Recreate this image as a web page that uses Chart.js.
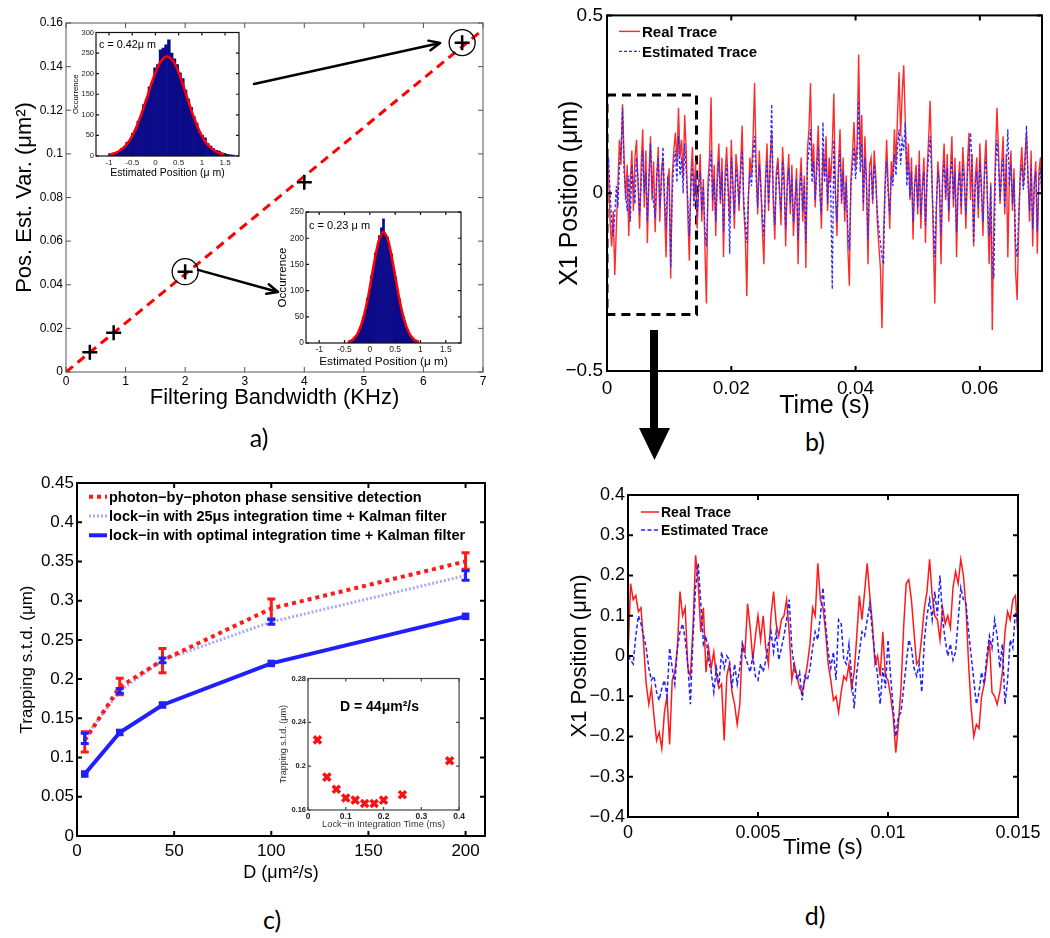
<!DOCTYPE html>
<html><head><meta charset="utf-8">
<script src="https://cdn.jsdelivr.net/npm/chart.js@4.4.1/dist/chart.umd.min.js"></script>
<style>
html,body{margin:0;padding:0;background:#fff;width:1050px;height:938px;overflow:hidden}
canvas{position:absolute}
.lbl{position:absolute;font-family:Lato,"Open Sans",sans-serif;font-size:25px;color:#000;transform:translate(-50%,-50%);white-space:nowrap}
</style></head><body>
<canvas id="ca" width="500" height="420" style="left:0px;top:0px"></canvas>
<canvas id="ca1" width="182" height="156" style="left:62px;top:26px"></canvas>
<canvas id="ca2" width="196" height="165" style="left:270px;top:205px"></canvas>
<canvas id="cb" width="520" height="425" style="left:530px;top:0px"></canvas>
<canvas id="cc" width="500" height="455" style="left:0px;top:430px"></canvas>
<canvas id="cc1" width="201" height="165" style="left:266px;top:672px"></canvas>
<canvas id="cd" width="490" height="400" style="left:560px;top:470px"></canvas>
<svg style="position:absolute;left:630px;top:325px" width="50" height="145"><rect x="20" y="5" width="8" height="100" fill="#000"/><polygon points="9,103 40,103 24.5,135" fill="#000"/></svg>
<div class="lbl" style="left:259px;top:437px">a)</div>
<div class="lbl" style="left:815px;top:441px">b)</div>
<div class="lbl" style="left:272px;top:919px">c)</div>
<div class="lbl" style="left:815px;top:915px">d)</div>
<script>
// ---------- DATA ----------
// panel a (main)
const bwA = [0.4, 0.8, 2, 4, 6.65];
const varA = [0.009, 0.018, 0.046, 0.087, 0.151];
const circX = [2, 6.65];
const circY = [0.046, 0.151];
const fitLineX = [0, 7];
const fitLineY = [0, 0.157];
const arrowFromX = [3.156, 2.216];
const arrowFromY = [0.132, 0.0468];
const arrowToX = [6.28, 3.559];
const arrowToY = [0.1508, 0.0367];
const aXTicks = [0,1,2,3,4,5,6,7];
const aXLabels = ['0','1','2','3','4','5','6','7'];
const aYTicks = [0,0.02,0.04,0.06,0.08,0.1,0.12,0.14,0.16];
const aYLabels = ['0','0.02','0.04','0.06','0.08','0.1','0.12','0.14','0.16'];
// panel a insets (histograms)
const hist1Start = -0.97, hist1Width = 0.06;
const hist1Counts = [3,5,9,10,18,20,33,38,55,62,85,96,125,138,168,178,214,222,258,262,270,282,250,236,222,202,188,160,138,118,96,80,58,50,44,30,24,18,14,12,8,6,4,3,2];
const fit1X = [-1.0,-0.9,-0.8,-0.7,-0.6,-0.5,-0.4,-0.3,-0.2,-0.1,0,0.1,0.2,0.25,0.3,0.4,0.5,0.6,0.7,0.8,0.9,1.0,1.1,1.2,1.3,1.4,1.5];
const fit1Y = [3,6,11,19,31,49,73,103,136,171,203,227,240,242,240,227,203,171,136,103,73,49,31,19,11,6,3];
const hist2Start = -0.41, hist2Width = 0.04;
const hist2Counts = [1,3,6,12,14,26,32,50,60,85,98,128,140,172,180,205,220,237,205,202,178,170,140,126,96,84,58,50,30,26,14,10,5,3,1];
const fit2X = [-0.43,-0.33,-0.23,-0.13,-0.03,0.07,0.17,0.27,0.37,0.47,0.57,0.67,0.77,0.87,0.97];
const fit2Y = [2,7,20,47,90,145,193,212,193,145,90,47,20,7,2];
const hXTicks = [-1,-0.5,0,0.5,1,1.5];
const hXLabels = ['-1','-0.5','0','0.5','1','1.5'];
const h1YTicks = [0,50,100,150,200,250,300];
const h1YLabels = ['0','50','100','150','200','250','300'];
const h2YTicks = [0,50,100,150,200,250];
const h2YLabels = ['0','50','100','150','200','250'];

// panel b (long trace)
const dtB = 0.00025;
const realB = [0.12,0.05,-0.08,-0.15,-0.05,-0.23,-0.10,0.02,0.15,0.08,
0.25,0.10,-0.02,0.08,-0.12,0.03,0.12,-0.05,0.10,0.15,
0.02,-0.10,0.08,0.18,-0.04,0.12,-0.14,0.05,0.16,-0.02,
0.09,-0.11,0.04,0.13,-0.08,0.06,0.10,-0.03,-0.18,0.02,
0.07,-0.24,0.05,0.12,0.17,0.08,0.24,0.10,0.15,0.04,
0.22,0.12,-0.06,-0.19,0.05,0.13,-0.02,0.09,-0.10,0.02,
0.11,-0.08,0.04,-0.15,-0.31,0.03,0.10,0.27,-0.05,0.08,
-0.12,0.06,0.14,-0.03,0.10,-0.18,0.05,0.13,0.02,-0.08,
0.15,0.03,-0.10,0.11,0.06,-0.05,0.08,0.19,-0.04,-0.12,
-0.29,-0.02,0.10,0.05,0.15,0.31,0.08,-0.06,0.12,0.03,
-0.10,-0.20,0.04,0.14,-0.05,0.09,0.17,-0.02,-0.13,0.06,
0.10,0.02,-0.09,0.13,0.05,-0.15,0.03,0.11,-0.06,0.08,
-0.12,-0.03,0.07,-0.20,0.02,0.10,-0.08,0.05,-0.21,0.12,
0.18,0.31,0.06,0.14,-0.04,0.09,0.19,0.02,-0.10,0.12,
0.05,0.16,-0.05,0.10,0.03,0.13,0.28,0.01,-0.12,0.08,
0.18,-0.03,0.10,-0.08,0.05,-0.15,-0.26,0.04,0.11,0.20,
0.07,0.14,0.39,0.10,0.22,-0.05,0.16,0.04,-0.20,0.08,
0.10,-0.03,0.12,0.05,-0.08,-0.15,-0.21,-0.38,-0.12,0.03,
0.15,0.02,-0.10,0.09,0.04,0.18,0.08,0.22,0.34,0.16,
0.28,0.36,0.20,0.05,0.14,-0.02,0.10,-0.13,0.03,0.08,
-0.06,0.12,-0.10,0.02,0.10,-0.14,0.06,0.15,0.26,0.08,
-0.12,-0.31,-0.05,0.09,0.03,-0.20,0.05,0.14,-0.02,0.11,
-0.08,0.06,0.16,-0.04,0.10,-0.18,0.02,0.09,-0.06,0.13,
0.05,-0.10,0.08,0.17,-0.02,0.11,-0.15,0.04,0.10,-0.07,
0.14,0.02,-0.12,0.08,0.15,-0.05,-0.20,0.03,-0.385,-0.08,
0.10,0.24,0.12,-0.03,0.08,0.16,-0.06,0.11,-0.18,0.04,
0.12,-0.05,0.07,-0.22,-0.30,-0.10,0.06,0.13,0.02,0.10,
0.17,0.05,-0.08,0.12,-0.15,0.03,0.09,-0.17,0.06,0.10,-0.02];
const estB = [0.05,0.10,0.00,-0.08,-0.12,-0.06,0.02,-0.04,0.08,0.12,
0.24,0.06,0.00,-0.05,0.05,-0.08,0.08,0.02,-0.03,0.10,
0.04,-0.06,0.02,0.12,0.00,0.06,-0.08,0.03,0.14,0.02,
-0.03,-0.07,0.05,0.10,-0.04,0.02,0.13,0.00,-0.10,0.04,
0.02,-0.21,0.00,0.08,0.12,0.03,0.16,0.05,0.10,0.00,
0.14,0.06,-0.02,-0.12,0.02,0.08,-0.04,0.05,-0.07,0.01,
0.06,-0.05,0.02,-0.10,-0.15,0.00,0.05,0.12,-0.02,0.04,
-0.08,0.03,0.09,-0.02,0.06,-0.11,0.02,0.08,0.00,-0.17,
0.10,0.02,-0.06,0.07,0.03,-0.03,0.05,0.12,-0.02,-0.08,
-0.14,0.00,0.06,0.02,0.10,0.16,0.04,-0.04,0.08,0.01,
-0.06,-0.12,0.02,0.09,-0.03,0.06,0.25,0.00,-0.09,0.04,
0.07,0.00,-0.05,0.09,0.02,-0.10,0.01,0.07,-0.03,0.05,
-0.08,-0.02,0.04,-0.13,0.00,0.06,-0.05,0.03,-0.14,0.08,
0.12,0.18,0.03,0.09,-0.02,0.06,0.13,0.00,-0.06,0.20,
0.03,0.10,-0.03,0.06,0.01,-0.27,0.15,0.00,-0.08,0.05,
0.12,-0.02,0.06,-0.05,0.03,-0.10,-0.16,0.02,0.07,0.13,
0.04,0.09,0.26,0.06,0.14,-0.03,0.10,0.02,-0.13,0.05,
0.06,-0.02,0.08,0.03,-0.05,-0.10,-0.14,-0.18,-0.20,0.01,
0.09,0.00,-0.06,0.05,0.02,0.11,0.05,0.13,0.18,0.08,
0.15,0.12,0.20,0.02,0.09,-0.01,0.06,-0.08,0.02,0.05,
-0.04,0.08,-0.06,0.01,0.06,-0.09,0.04,0.10,0.16,0.05,
-0.07,-0.18,-0.03,0.06,0.02,-0.12,0.03,0.09,-0.01,0.07,
-0.05,0.04,0.10,-0.02,0.06,-0.11,0.01,0.06,-0.04,0.08,
0.03,-0.06,0.05,0.11,0.17,0.07,-0.14,0.02,0.06,-0.04,
0.09,0.01,-0.08,0.05,0.10,-0.03,-0.12,0.02,-0.20,-0.24,
0.06,0.15,0.08,-0.02,0.05,0.10,-0.04,0.07,0.18,0.02,
0.08,-0.03,0.04,-0.14,-0.18,-0.06,0.04,0.08,0.01,0.06,
0.19,0.03,-0.05,0.08,-0.10,0.02,0.06,-0.11,0.04,0.07,-0.01];
const zoomBoxX = [0, 0.0144, 0.0144, 0, 0];
const zoomBoxY = [0.276, 0.276, -0.341, -0.341, 0.276];
const bXTicks = [0,0.02,0.04,0.06];
const bXLabels = ['0','0.02','0.04','0.06'];
const bYTicks = [-0.5,0,0.5];
const bYLabels = ['\u22120.5','0','0.5'];

// panel c
const cD = [4, 22, 44, 100, 200];
const cPhoton = [0.122, 0.19, 0.224, 0.29, 0.35];
const cPhotonLo = [0.107, 0.18, 0.208, 0.277, 0.34];
const cPhotonHi = [0.133, 0.201, 0.239, 0.302, 0.361];
const cLock25 = [0.125, 0.185, 0.224, 0.273, 0.332];
const cLock25Lo = [0.118, 0.182, 0.221, 0.27, 0.326];
const cLock25Hi = [0.131, 0.188, 0.227, 0.276, 0.338];
const cLockOpt = [0.079, 0.132, 0.167, 0.22, 0.28];
const cXTicks = [0,50,100,150,200];
const cXLabels = ['0','50','100','150','200'];
const cYTicks = [0,0.05,0.1,0.15,0.2,0.25,0.3,0.35,0.4,0.45];
const cYLabels = ['0','0.05','0.1','0.15','0.2','0.25','0.3','0.35','0.4','0.45'];
// panel c inset
const intTime = [0.025,0.05,0.075,0.1,0.125,0.15,0.175,0.2,0.25,0.375];
const intStd = [0.224,0.19,0.179,0.171,0.169,0.166,0.166,0.169,0.174,0.205];
const ciXTicks = [0,0.1,0.2,0.3,0.4];
const ciXLabels = ['0','0.1','0.2','0.3','0.4'];
const ciYTicks = [0.16,0.2,0.24,0.28];
const ciYLabels = ['0.16','0.2','0.24','0.28'];

// panel d (zoomed trace)
const dtD = 0.0001;
const realD = [0,0.18,0.14,0.15,0.11,0.12,0.03,-0.07,-0.12,-0.08,
-0.15,-0.21,-0.19,-0.23,-0.14,-0.10,-0.22,-0.06,-0.04,0.02,
0.16,0.10,0.12,-0.03,-0.05,0.07,0.25,0.18,0.06,0.12,
-0.04,0.02,-0.03,0.01,-0.05,-0.08,-0.07,-0.21,-0.05,-0.02,
-0.09,-0.12,-0.17,-0.12,0.03,0.01,0.13,0.07,-0.01,0.05,
0.10,0.04,0.10,0.02,-0.02,0.10,0.16,0.08,0.05,0.09,
0.10,0.14,0.06,-0.06,-0.02,-0.05,-0.08,-0.09,-0.06,-0.02,
0.03,0.12,0.10,0.23,0.14,0.12,0.06,-0.02,-0.06,-0.11,
-0.10,-0.14,-0.09,-0.05,-0.06,-0.02,-0.08,-0.04,0.05,0.15,
0.09,0.16,0.23,0.15,0.08,-0.02,0.00,-0.05,0.06,-0.05,
-0.06,-0.10,-0.15,-0.24,-0.17,-0.08,0.07,0.18,0.19,0.14,
0.06,-0.02,-0.01,0.05,0.12,0.16,0.24,0.15,0.10,0.09,
0.04,0.12,0.08,0.10,0.07,0.17,0.21,0.18,0.24,0.20,
0.12,-0.02,-0.13,-0.20,-0.17,-0.18,-0.10,-0.07,-0.02,0.04,
-0.09,-0.10,-0.12,-0.09,-0.04,0.06,0.11,0.09,0.14,0.15,0.05];
const estD = [0,-0.01,-0.02,0.05,0.10,0.08,0.05,0.02,-0.03,-0.06,
-0.05,-0.09,-0.11,-0.08,-0.06,-0.10,0.02,-0.03,-0.07,0.02,
0.06,0.08,0.04,-0.02,-0.12,0.05,0.17,0.23,0.13,0.03,
0.05,-0.01,-0.04,-0.09,-0.03,-0.07,0.01,-0.03,0.00,-0.01,
-0.08,-0.02,-0.07,-0.03,0.03,0.00,-0.02,-0.04,0.00,-0.05,
-0.06,-0.02,-0.04,-0.01,0.03,0.06,0.01,0.06,-0.01,0.02,
0.05,0.09,0.14,0.02,-0.03,-0.06,-0.04,-0.11,-0.05,-0.06,
-0.03,0.02,0.06,0.04,0.10,0.17,0.08,0.01,-0.03,0.01,
-0.06,0.09,0.08,-0.01,-0.02,0.03,-0.05,-0.13,-0.04,0.01,
0.06,0.05,0.09,0.13,0.06,0.00,-0.05,-0.12,-0.03,-0.08,
0.04,-0.05,-0.13,-0.20,-0.15,-0.14,-0.08,-0.02,0.04,0.02,
-0.03,-0.05,-0.02,-0.09,0.04,0.10,0.14,0.09,0.16,0.10,
0.20,0.09,0.04,0.00,0.03,-0.01,0.01,0.09,0.17,0.14,
0.13,0.06,0.00,-0.06,-0.12,-0.09,-0.04,-0.07,0.00,0.05,
0.02,0.09,0.05,-0.03,0.03,-0.12,-0.06,0.04,0.02,0.11,0.08];
const dXTicks = [0,0.005,0.01,0.015];
const dXLabels = ['0','0.005','0.01','0.015'];
const dYTicks = [-0.4,-0.3,-0.2,-0.1,0,0.1,0.2,0.3,0.4];
const dYLabels = ['\u22120.4','\u22120.3','\u22120.2','\u22120.1','0','0.1','0.2','0.3','0.4'];

// ---------- HELPERS ----------
const FF = '"Liberation Sans", Arial, Helvetica, sans-serif';
Chart.defaults.font.family = FF;
Chart.defaults.color = '#000';
const pts = (xs, ys) => xs.map((v, i) => ({x: v, y: ys[i]}));
const series = (vals, dt) => vals.map((v, i) => ({x: i * dt, y: v}));

function mkAxis(o) {
  const horiz = o.pos === 'bottom';
  return {
    type: 'linear', position: o.pos, min: o.min, max: o.max, offset: false,
    afterBuildTicks: s => { s.ticks = o.ticks.map(v => ({value: v})); },
    afterFit: s => { if (horiz) s.height = o.size; else s.width = o.size; },
    ticks: { autoSkip: false, maxRotation: 0, minRotation: 0, padding: o.pad, color: o.tc || '#000',
      font: { size: o.fs, weight: o.fw || 'normal' }, callback: (v, i) => o.labels[i] },
    grid: { display: false, drawTicks: false },
    border: { display: false },
    title: { display: !!o.title, text: o.title, color: o.ttc || '#000',
      font: { size: o.tfs, weight: o.tfw || 'normal' },
      padding: horiz ? {top: 0, bottom: o.tpad} : {top: o.tpad, bottom: 0} }
  };
}
function opts(pad, x, y, plug) {
  return { responsive: false, animation: false, devicePixelRatio: 1, events: [],
    layout: { padding: pad, autoPadding: false },
    scales: { x: x, y: y },
    plugins: Object.assign({ legend: {display: false}, tooltip: {enabled: false} }, plug) };
}

const boxPlugin = {
  id: 'mbox',
  beforeDatasetsDraw(chart, a, o) {
    if (!o || !o.fill) return;
    const c = chart.chartArea, ctx = chart.ctx;
    ctx.save(); ctx.fillStyle = '#fff';
    ctx.fillRect(c.left, c.top, c.right - c.left, c.bottom - c.top); ctx.restore();
  },
  afterDatasetsDraw(chart, a, o) {
    if (!o || !o.width) return;
    const {ctx, chartArea: c, scales} = chart, L = o.tick;
    ctx.save(); ctx.strokeStyle = o.color; ctx.lineWidth = o.width; ctx.setLineDash([]);
    ctx.beginPath();
    scales.x.ticks.forEach(t => { const p = scales.x.getPixelForValue(t.value);
      ctx.moveTo(p, c.bottom); ctx.lineTo(p, c.bottom - L); ctx.moveTo(p, c.top); ctx.lineTo(p, c.top + L); });
    scales.y.ticks.forEach(t => { const p = scales.y.getPixelForValue(t.value);
      ctx.moveTo(c.left, p); ctx.lineTo(c.left + L, p); ctx.moveTo(c.right, p); ctx.lineTo(c.right - L, p); });
    ctx.stroke();
    ctx.strokeRect(c.left, c.top, c.right - c.left, c.bottom - c.top);
    ctx.restore();
  }
};
const legendPlugin = {
  id: 'mleg',
  afterDraw(chart, a, o) {
    if (!o || !o.items) return;
    const {ctx, chartArea: c} = chart;
    ctx.save(); ctx.font = o.font; ctx.textBaseline = 'middle'; ctx.fillStyle = '#000';
    o.items.forEach((di, k) => {
      const ds = chart.data.datasets[di];
      const y = c.top + o.y + k * o.dy, x = c.left + o.x;
      ctx.strokeStyle = ds.borderColor; ctx.lineWidth = ds.borderWidth; ctx.setLineDash(ds.borderDash || []);
      ctx.beginPath(); ctx.moveTo(x, y); ctx.lineTo(x + o.len, y); ctx.stroke();
      ctx.setLineDash([]);
      ctx.fillText(ds.label, x + o.len + o.gap, y + 1);
    });
    ctx.restore();
  }
};
const textPlugin = {
  id: 'mtext',
  afterDraw(chart, a, o) {
    if (!o || !o.items) return;
    const {ctx, chartArea: c} = chart;
    ctx.save();
    o.items.forEach(t => { ctx.font = t.font; ctx.fillStyle = '#000'; ctx.textBaseline = 'middle'; ctx.textAlign = 'left';
      ctx.fillText(t.text, c.left + t.dx, c.top + t.dy); });
    ctx.restore();
  }
};
const arrowPlugin = {
  id: 'marrow',
  afterDatasetsDraw(chart, a, o) {
    if (!o || !o.fx) return;
    const {ctx, scales: {x, y}} = chart;
    ctx.save(); ctx.strokeStyle = '#000'; ctx.lineWidth = o.width; ctx.lineCap = 'round'; ctx.lineJoin = 'round';
    o.fx.forEach((_, i) => {
      const x0 = x.getPixelForValue(o.fx[i]), y0 = y.getPixelForValue(o.fy[i]);
      const x1 = x.getPixelForValue(o.tx[i]), y1 = y.getPixelForValue(o.ty[i]);
      const ang = Math.atan2(y1 - y0, x1 - x0), h = o.head;
      ctx.beginPath(); ctx.moveTo(x0, y0); ctx.lineTo(x1, y1);
      ctx.moveTo(x1 - h * Math.cos(ang - 0.42), y1 - h * Math.sin(ang - 0.42));
      ctx.lineTo(x1, y1);
      ctx.lineTo(x1 - h * Math.cos(ang + 0.42), y1 - h * Math.sin(ang + 0.42));
      ctx.stroke();
    });
    ctx.restore();
  }
};
const errPlugin = {
  id: 'merr',
  afterDatasetsDraw(chart, a, o) {
    if (!o || !o.sets) return;
    const {ctx, scales: {x, y}} = chart;
    o.sets.forEach(s => {
      ctx.save(); ctx.strokeStyle = s.color; ctx.lineWidth = s.width; ctx.setLineDash([]); ctx.beginPath();
      s.xs.forEach((xv, i) => {
        const px = x.getPixelForValue(xv), lo = y.getPixelForValue(s.lo[i]), hi = y.getPixelForValue(s.hi[i]);
        ctx.moveTo(px, lo); ctx.lineTo(px, hi);
        ctx.moveTo(px - s.cap, lo); ctx.lineTo(px + s.cap, lo);
        ctx.moveTo(px - s.cap, hi); ctx.lineTo(px + s.cap, hi);
      });
      ctx.stroke(); ctx.restore();
    });
  }
};
const allPlugins = [boxPlugin, legendPlugin, textPlugin, arrowPlugin, errPlugin];

// ---------- PANEL a ----------
new Chart(document.getElementById('ca'), {
  type: 'scatter',
  data: { datasets: [
    { label: 'measured', data: pts(bwA, varA), pointStyle: 'cross', pointRadius: 7.5, borderColor: '#000', backgroundColor: '#000', borderWidth: 2.5, showLine: false },
    { label: 'zoomed', data: pts(circX, circY), pointStyle: 'circle', pointRadius: 13, borderColor: '#000', backgroundColor: 'rgba(0,0,0,0)', borderWidth: 1.3, showLine: false },
    { label: 'fit', data: pts(fitLineX, fitLineY), showLine: true, borderColor: '#ff0000', borderWidth: 3, borderDash: [9, 6], pointRadius: 0 }
  ]},
  options: opts({left: 0, top: 23, right: 17, bottom: 0},
    mkAxis({pos: 'bottom', min: 0, max: 7, ticks: aXTicks, labels: aXLabels, size: 48, pad: 2, fs: 12, title: 'Filtering Bandwidth (KHz)', tfs: 22, tpad: 8.8}),
    mkAxis({pos: 'left', min: 0, max: 0.16, ticks: aYTicks, labels: aYLabels, size: 66, pad: 3, fs: 12, title: 'Pos. Est. Var. (\u03bcm\u00b2)', tfs: 22, tpad: 12}),
    { mbox: {color: '#555', width: 1, tick: 5},
      marrow: {fx: arrowFromX, fy: arrowFromY, tx: arrowToX, ty: arrowToY, width: 2.5, head: 12} }),
  plugins: allPlugins
});

function histChart(id, counts, start, width, fx, fy, xmin, xmax, ymax, yt, yl, o) {
  return new Chart(document.getElementById(id), {
    type: 'bar',
    data: { datasets: [
      { type: 'line', label: 'fit', data: pts(fx, fy), borderColor: '#ff0000', borderWidth: 2.5, pointRadius: 0, cubicInterpolationMode: 'monotone' },
      { type: 'bar', label: 'hist', data: counts.map((c, i) => ({x: start + i * width, y: c})), backgroundColor: '#0b0b8a', borderWidth: 0, barPercentage: 1, categoryPercentage: 1 }
    ]},
    options: opts(o.pad,
      mkAxis({pos: 'bottom', min: xmin, max: xmax, ticks: hXTicks, labels: hXLabels, size: o.xs, pad: o.xp, fs: o.xfs, tc: '#222', title: 'Estimated Position (\u03bc m)', tfs: o.xtfs, tpad: o.xtp}),
      mkAxis({pos: 'left', min: 0, max: ymax, ticks: yt, labels: yl, size: o.ys, pad: 2, fs: o.yfs, tc: '#222', title: 'Occurrence', tfs: o.ytfs, tpad: o.ytp}),
      { mbox: {color: '#111', width: 1.2, tick: 3, fill: true}, mtext: {items: [o.text]} }),
    plugins: allPlugins
  });
}
histChart('ca1', hist1Counts, hist1Start, hist1Width, fit1X, fit1Y, -1.28, 1.8, 300, h1YTicks, h1YLabels,
  {pad: {left: 0, top: 6, right: 5, bottom: 0}, xs: 26, xp: 1.5, xfs: 8, xtfs: 10.5, xtp: 3, ys: 34, yfs: 7.5, ytfs: 7.7, ytp: 9.4,
   text: {text: 'c = 0.42\u03bc m', dx: 3, dy: 13, font: '10.8px ' + FF}});
histChart('ca2', hist2Counts, hist2Start, hist2Width, fit2X, fit2Y, -1.26, 1.8, 250, h2YTicks, h2YLabels,
  {pad: {left: 0, top: 7, right: 5, bottom: 0}, xs: 27, xp: 2, xfs: 8.5, xtfs: 11.8, xtp: 1.2, ys: 36, yfs: 8.4, ytfs: 11.6, ytp: 6,
   text: {text: 'c = 0.23 \u03bc m', dx: 3, dy: 14, font: '11px ' + FF}});

// ---------- PANEL b ----------
new Chart(document.getElementById('cb'), {
  type: 'line',
  data: { datasets: [
    { label: 'Estimated Trace', data: series(estB, dtB), borderColor: '#2a2aff', borderWidth: 1.3, borderDash: [3, 2], pointRadius: 0, tension: 0 },
    { label: 'Real Trace', data: series(realB, dtB), borderColor: '#ff2a2a', borderWidth: 1.4, pointRadius: 0, tension: 0 },
    { label: 'zoom region', data: pts(zoomBoxX, zoomBoxY), borderColor: '#000', borderWidth: 3, borderDash: [9, 6], pointRadius: 0, tension: 0 }
  ]},
  options: opts({left: 0, top: 13, right: 8, bottom: 0},
    mkAxis({pos: 'bottom', min: 0, max: 0.07, ticks: bXTicks, labels: bXLabels, size: 54, pad: 6, fs: 19, title: 'Time (s)', tfs: 25, tpad: 4}),
    mkAxis({pos: 'left', min: -0.5, max: 0.5, ticks: bYTicks, labels: bYLabels, size: 77, pad: 4, fs: 19, title: 'X1 Position (\u03bcm)', tfs: 25, tpad: 25}),
    { mbox: {color: '#000', width: 2, tick: 5},
      mleg: {items: [1, 0], x: 12, y: 16, dy: 20, len: 21, gap: 2, font: 'bold 15px ' + FF} }),
  plugins: allPlugins
});

// ---------- PANEL c ----------
new Chart(document.getElementById('cc'), {
  type: 'line',
  data: { datasets: [
    { label: 'photon\u2212by\u2212photon phase sensitive detection', data: pts(cD, cPhoton), borderColor: '#ff1a1a', borderWidth: 4, borderDash: [4, 4], pointRadius: 0, tension: 0 },
    { label: 'lock\u2212in with 25\u03bcs integration time + Kalman filter', data: pts(cD, cLock25), borderColor: '#a8a8ff', borderWidth: 3, borderDash: [2, 2], pointRadius: 0, tension: 0 },
    { label: 'lock\u2212in with optimal integration time + Kalman filter', data: pts(cD, cLockOpt), borderColor: '#1f1fff', backgroundColor: '#1f1fff', borderWidth: 4, pointRadius: 2.5, pointStyle: 'rect', tension: 0 }
  ]},
  options: opts({left: 0, top: 53, right: 15, bottom: 0},
    mkAxis({pos: 'bottom', min: 0, max: 210, ticks: cXTicks, labels: cXLabels, size: 49, pad: 5, fs: 17, title: 'D (\u03bcm\u00b2/s)', tfs: 18, tpad: 1.2}),
    mkAxis({pos: 'left', min: 0, max: 0.45, ticks: cYTicks, labels: cYLabels, size: 77, pad: 3, fs: 17, title: 'Trapping s.t.d. (\u03bcm)', tfs: 17, tpad: 17}),
    { mbox: {color: '#000', width: 2, tick: 5},
      mleg: {items: [0, 1, 2], x: 12, y: 13.7, dy: 19.3, len: 18, gap: 2, font: 'bold 14.5px ' + FF},
      merr: {sets: [
        {xs: cD, lo: cPhotonLo, hi: cPhotonHi, color: '#ff1a1a', width: 3, cap: 4},
        {xs: cD, lo: cLock25Lo, hi: cLock25Hi, color: '#1f1fff', width: 3, cap: 4}
      ]} }),
  plugins: allPlugins
});
new Chart(document.getElementById('cc1'), {
  type: 'scatter',
  data: { datasets: [
    { label: 'D = 44', data: pts(intTime, intStd), pointStyle: 'crossRot', pointRadius: 5, borderColor: '#ff1010', borderWidth: 3.5, showLine: false }
  ]},
  options: opts({left: 0, top: 6, right: 5, bottom: 0},
    mkAxis({pos: 'bottom', min: 0, max: 0.4, ticks: ciXTicks, labels: ciXLabels, size: 27, pad: 2, fs: 8.5, fw: 'bold', tc: '#222', title: 'Lock\u2212in Integration Time (ms)', tfs: 9.3, ttc: '#333', tpad: 7.4}),
    mkAxis({pos: 'left', min: 0.16, max: 0.28, ticks: ciYTicks, labels: ciYLabels, size: 42, pad: 2, fs: 7.5, fw: 'bold', tc: '#222', title: 'Trapping s.t.d. (\u03bcm)', tfs: 9, ttc: '#333', tpad: 12}),
    { mbox: {color: '#444', width: 1.2, tick: 3, fill: true},
      mtext: {items: [{text: 'D = 44\u03bcm\u00b2/s', dx: 32, dy: 29, font: 'bold 14px ' + FF}]} }),
  plugins: allPlugins
});

// ---------- PANEL d ----------
new Chart(document.getElementById('cd'), {
  type: 'line',
  data: { datasets: [
    { label: 'Estimated Trace', data: series(estD, dtD), borderColor: '#1f1fff', borderWidth: 1.5, borderDash: [4, 2.5], pointRadius: 0, tension: 0 },
    { label: 'Real Trace', data: series(realD, dtD), borderColor: '#ff1a1a', borderWidth: 1.5, pointRadius: 0, tension: 0 }
  ]},
  options: opts({left: 0, top: 25, right: 32, bottom: 0},
    mkAxis({pos: 'bottom', min: 0, max: 0.015, ticks: dXTicks, labels: dXLabels, size: 53, pad: 5, fs: 18, title: 'Time (s)', tfs: 22, tpad: 8.8}),
    mkAxis({pos: 'left', min: -0.4, max: 0.4, ticks: dYTicks, labels: dYLabels, size: 68, pad: 3, fs: 18, title: 'X1 Position (\u03bcm)', tfs: 22, tpad: 6.8}),
    { mbox: {color: '#000', width: 2, tick: 5},
      mleg: {items: [1, 0], x: 13, y: 17, dy: 18, len: 18, gap: 2, font: 'bold 14px ' + FF} }),
  plugins: allPlugins
});
</script>
</body></html>
